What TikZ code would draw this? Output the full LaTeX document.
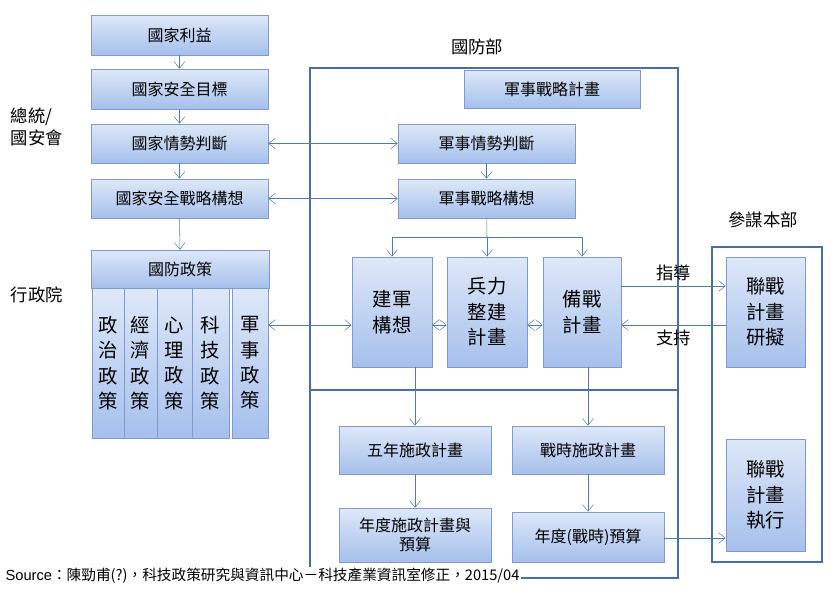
\documentclass[tikz,border=0pt]{standalone}
\usepackage{fontspec}
\usepackage{tikz}
\usetikzlibrary{arrows.meta,calc}
\setmainfont{Liberation Sans}
\newfontfamily\cjk{Noto Sans CJK TC}
\definecolor{boxtop}{RGB}{222,232,248}
\definecolor{boxbot}{RGB}{166,192,236}
\definecolor{boxline}{RGB}{125,155,210}
\definecolor{frameblue}{RGB}{70,110,170}
\definecolor{linkblue}{RGB}{80,120,190}
\tikzset{
  planbox/.style={draw=boxline,top color=boxtop,bottom color=boxbot,inner sep=0pt,
    font=\cjk\fontsize{12}{14}\selectfont,align=center},
  bigbox/.style={planbox,font=\cjk\fontsize{14.5}{19}\selectfont},
  frame/.style={draw=frameblue,line width=1pt},
  link/.style={draw=linkblue,-{Straight Barb[length=5pt,width=8pt]}},
  twoway/.style={draw=linkblue,{Straight Barb[length=5pt,width=8pt]}-{Straight Barb[length=5pt,width=8pt]}},
  lbl/.style={font=\cjk\fontsize{13}{16}\selectfont,align=left}
}
\newcommand{\pbox}[6][planbox]{\node[#1,minimum width=#4*0.75pt,minimum height=#5*0.75pt] (#2) at (#3) {#6};}
\begin{document}
\begin{tikzpicture}[x=0.75pt,y=-0.75pt]
\useasboundingbox (0,0) rectangle (836,593);
% frames
\draw[frame] (310,68) rectangle (678,390);
\draw[frame] (310,390) rectangle (678,578);
\draw[frame] (712,247) rectangle (822,562);
\node[lbl] (mod) at (477,47) {國防部};
\node[lbl] (staff) at (763,220) {參謀本部};
\node[lbl] (pres) at (37,127) {總統/\\國安會};
\node[lbl] (exec) at (37,295) {行政院};
% left column
\pbox{nint}{179.5,35}{177}{40}{國家利益}
\pbox{ngoal}{179.5,89}{177}{40}{國家安全目標}
\pbox{nsit}{179.5,143.5}{177}{39}{國家情勢判斷}
\pbox{nstrat}{179.5,198.5}{177}{39}{國家安全戰略構想}
\pbox{dpol}{180,269}{178}{38}{國防政策}
\pbox[bigbox]{p1}{108,363}{32}{150}{政\\治\\政\\策}
\pbox[bigbox]{p2}{140.5,363}{33}{150}{經\\濟\\政\\策}
\pbox[bigbox]{p3}{174.5,363}{35}{150}{心\\理\\政\\策}
\pbox[bigbox]{p4}{210.5,363}{37}{150}{科\\技\\政\\策}
\pbox[bigbox]{p5}{250,363}{36}{150}{軍\\事\\政\\策}
% ministry
\pbox{mplan}{552,89}{176}{38}{軍事戰略計畫}
\pbox{msit}{486.5,143.5}{177}{39}{軍事情勢判斷}
\pbox{mstrat}{486.5,198.5}{177}{39}{軍事戰略構想}
\pbox[bigbox]{build}{392,312}{80}{110}{建軍\\構想}
\pbox[bigbox]{force}{487,312}{80}{110}{兵力\\整建\\計畫}
\pbox[bigbox]{ready}{582,312}{78}{110}{備戰\\計畫}
\pbox{five}{415,450}{152}{48}{五年施政計畫}
\pbox{war}{588,450}{152}{48}{戰時施政計畫}
\pbox{year}{415,535}{152}{54}{年度施政計畫與\\預算}
\pbox{wbud}{588,537}{152}{50}{年度(戰時)預算}
% staff
\pbox[bigbox]{jdraft}{765.5,312}{79}{110}{聯戰\\計畫\\研擬}
\pbox[bigbox]{jexec}{765.5,495}{79}{112}{聯戰\\計畫\\執行}
% connectors
\draw[link] (nint) -- (ngoal);
\draw[link] (ngoal) -- (nsit);
\draw[link] (nsit) -- (nstrat);
\draw[link] (nstrat) -- (dpol);
\draw[twoway] (nsit) -- (msit);
\draw[twoway] (nstrat) -- (mstrat);
\draw[link] (msit) -- (mstrat);
\coordinate (fork) at (487,237);
\draw[draw=linkblue] (mstrat) -- (fork);
\draw[link] (fork) -| (build.north);
\draw[link] (fork) -- (force);
\draw[link] (fork) -| (ready.north);
\draw[twoway] (p5.east |- 0,325) -- (build.west |- 0,325);
\draw[twoway] (build.east |- 0,325) -- (force.west |- 0,325);
\draw[twoway] (force.east |- 0,325) -- (ready.west |- 0,325);
\draw[link] (ready.east |- 0,286) -- node[lbl,above] (guide) {指導} (jdraft.west |- 0,286);
\draw[link] (jdraft.west |- 0,325) -- node[lbl,below] (support) {支持} (ready.east |- 0,325);
\draw[link] (force.south -| five) -- (five);
\draw[link] (ready.south -| war) -- (war);
\draw[link] (five) -- (year);
\draw[link] (war) -- (wbud);
\draw[link] (wbud.east |- 0,538) -- (jexec.west |- 0,538);
\node[anchor=west,font=\fontsize{11}{13}\selectfont,fill=white,inner sep=1pt] (src) at (4,576)
  {Source\cjk：陳勁甫(?)，科技政策研究與資訊中心－科技產業資訊室修正，2015/04};
\end{tikzpicture}
\end{document}
